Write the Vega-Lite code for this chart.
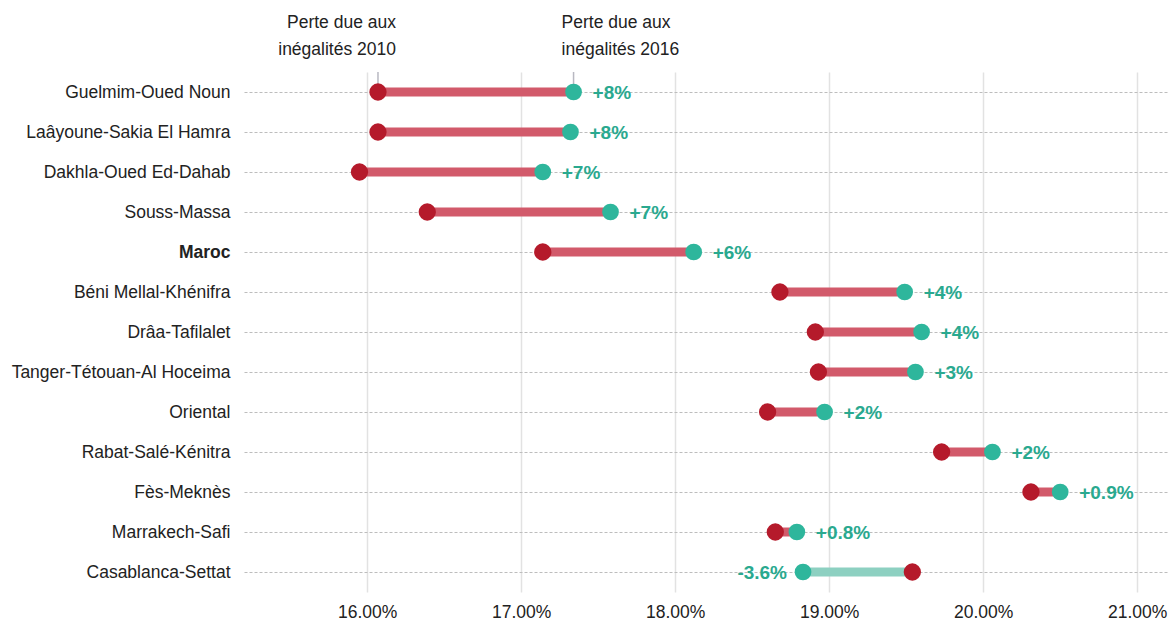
{
  "$schema": "https://vega.github.io/schema/vega-lite/v6.json",
  "width": 924,
  "height": 520,
  "autosize": {"type": "none"},
  "padding": {"left": 244, "top": 72, "right": 2, "bottom": 32},
  "background": "white",
  "config": {
    "view": {"stroke": null},
    "font": "Liberation Sans",
    "text": {"font": "Liberation Sans"}
  },
  "datasets": {
    "regions": [
      {"region": "Guelmim-Oued Noun", "v2010": 16.07, "v2016": 17.34, "label": "+8%"},
      {"region": "Laâyoune-Sakia El Hamra", "v2010": 16.07, "v2016": 17.32, "label": "+8%"},
      {"region": "Dakhla-Oued Ed-Dahab", "v2010": 15.95, "v2016": 17.14, "label": "+7%"},
      {"region": "Souss-Massa", "v2010": 16.39, "v2016": 17.58, "label": "+7%"},
      {"region": "Maroc", "v2010": 17.14, "v2016": 18.12, "label": "+6%"},
      {"region": "Béni Mellal-Khénifra", "v2010": 18.68, "v2016": 19.49, "label": "+4%"},
      {"region": "Drâa-Tafilalet", "v2010": 18.91, "v2016": 19.6, "label": "+4%"},
      {"region": "Tanger-Tétouan-Al Hoceima", "v2010": 18.93, "v2016": 19.56, "label": "+3%"},
      {"region": "Oriental", "v2010": 18.6, "v2016": 18.97, "label": "+2%"},
      {"region": "Rabat-Salé-Kénitra", "v2010": 19.73, "v2016": 20.06, "label": "+2%"},
      {"region": "Fès-Meknès", "v2010": 20.31, "v2016": 20.5, "label": "+0.9%"},
      {"region": "Marrakech-Safi", "v2010": 18.65, "v2016": 18.79, "label": "+0.8%"},
      {"region": "Casablanca-Settat", "v2010": 19.54, "v2016": 18.83, "label": "-3.6%"}
    ],
    "notes": [
      {"region": "Guelmim-Oued Noun", "value": 16.07, "year": "2010", "text": "Perte due aux\ninégalités 2010"},
      {"region": "Guelmim-Oued Noun", "value": 17.34, "year": "2016", "text": "Perte due aux\ninégalités 2016"}
    ]
  },
  "data": {"name": "regions"},
  "encoding": {
    "y": {
      "field": "region",
      "type": "nominal",
      "sort": null,
      "scale": {"type": "point", "padding": 0.5},
      "axis": {
        "title": null,
        "domain": false,
        "ticks": false,
        "labelPadding": 14,
        "labelFontSize": 17.5,
        "labelLimit": 400,
        "labelColor": "#222222",
        "labelFontWeight": {"condition": {"test": "datum.value === 'Maroc'", "value": "bold"}, "value": "normal"},
        "grid": true,
        "gridColor": "#bdbdbd",
        "gridDash": [3, 2],
        "gridWidth": 1
      }
    }
  },
  "layer": [
    {
      "mark": {"type": "rule", "strokeWidth": 9, "strokeCap": "butt"},
      "encoding": {
        "x": {
          "field": "v2010",
          "type": "quantitative",
          "scale": {"domain": [15.2, 21.2], "nice": false, "zero": false},
          "axis": {
            "title": null,
            "values": [16, 17, 18, 19, 20, 21],
            "labelExpr": "format(datum.value, '.2f') + '%'",
            "domain": false,
            "ticks": false,
            "labelPadding": 11,
            "labelFontSize": 17.5,
            "labelColor": "#222222",
            "gridColor": "#e2e2e2",
            "gridWidth": 1.5
          }
        },
        "x2": {"field": "v2016"},
        "color": {
          "condition": {"test": "datum.v2016 < datum.v2010", "value": "#8dd0c1"},
          "value": "#d25a6b"
        }
      }
    },
    {
      "data": {"name": "notes"},
      "mark": {"type": "tick", "orient": "vertical", "size": 20, "thickness": 1.5, "yOffset": -10, "color": "#9a9aa6"},
      "encoding": {"x": {"field": "value", "type": "quantitative"}}
    },
    {
      "mark": {"type": "circle", "size": 300, "opacity": 1, "color": "#b51a2b"},
      "encoding": {"x": {"field": "v2010", "type": "quantitative"}}
    },
    {
      "mark": {"type": "circle", "size": 280, "opacity": 1, "color": "#2eb69c"},
      "encoding": {"x": {"field": "v2016", "type": "quantitative"}}
    },
    {
      "transform": [{"filter": "datum.v2016 >= datum.v2010"}],
      "mark": {"type": "text", "align": "left", "baseline": "middle", "dx": 19, "dy": 1, "fontSize": 19, "fontWeight": "bold", "color": "#2aa98f"},
      "encoding": {"x": {"field": "v2016", "type": "quantitative"}, "text": {"field": "label"}}
    },
    {
      "transform": [{"filter": "datum.v2016 < datum.v2010"}],
      "mark": {"type": "text", "align": "right", "baseline": "middle", "dx": -16, "dy": 1, "fontSize": 19, "fontWeight": "bold", "color": "#2aa98f"},
      "encoding": {"x": {"field": "v2016", "type": "quantitative"}, "text": {"field": "label"}}
    },
    {
      "data": {"name": "notes"},
      "transform": [{"filter": "datum.year === '2010'"}],
      "mark": {"type": "text", "align": "right", "baseline": "bottom", "dx": 18, "dy": -60, "fontSize": 17.5, "lineHeight": 27, "lineBreak": "\n", "color": "#222222"},
      "encoding": {"x": {"field": "value", "type": "quantitative"}, "text": {"field": "text"}}
    },
    {
      "data": {"name": "notes"},
      "transform": [{"filter": "datum.year === '2016'"}],
      "mark": {"type": "text", "align": "left", "baseline": "bottom", "dx": -12, "dy": -60, "fontSize": 17.5, "lineHeight": 27, "lineBreak": "\n", "color": "#222222"},
      "encoding": {"x": {"field": "value", "type": "quantitative"}, "text": {"field": "text"}}
    }
  ]
}
